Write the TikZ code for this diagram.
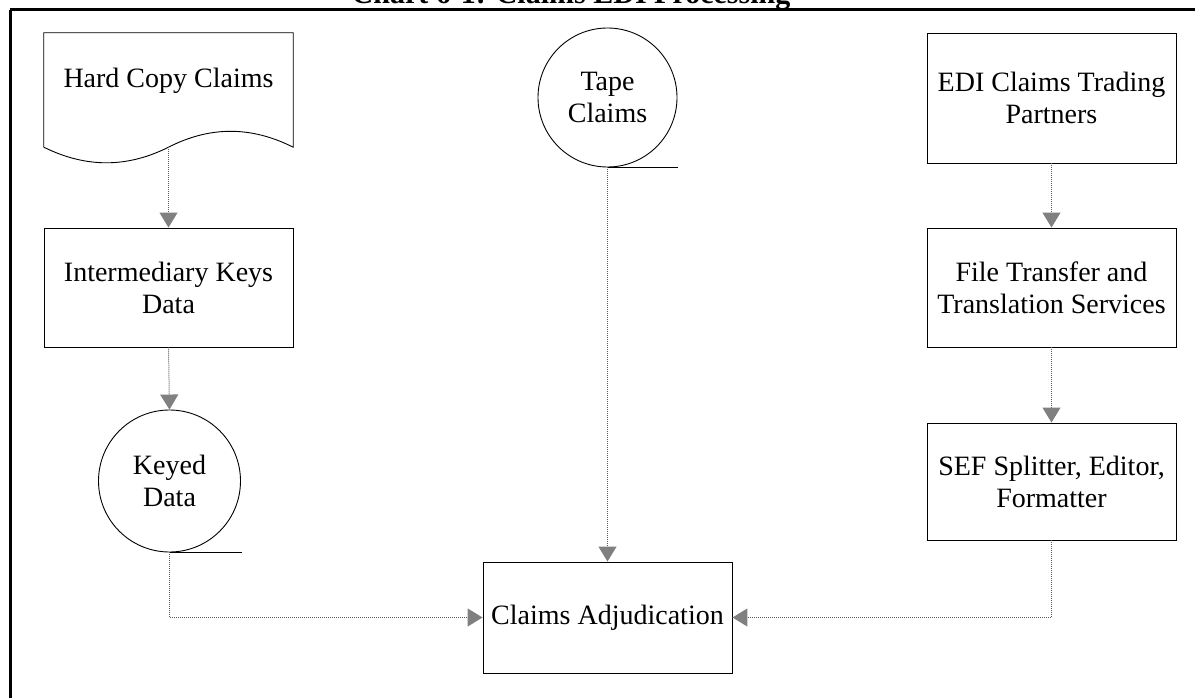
\documentclass[tikz,border=0pt]{standalone}
\usepackage{fontspec}
\setmainfont{Liberation Serif}
\usetikzlibrary{arrows.meta}

\tikzset{
  lbl/.style={font=\fontsize{28bp}{32bp}\selectfont, align=center, inner sep=0pt},
  procbox/.style={lbl, draw=black, line width=0.9bp, rectangle, minimum width=249bp},
  tapecirc/.style={lbl, draw=black, line width=0.9bp, circle},
  flow/.style={draw=black!65, line width=1bp, dash pattern=on 1bp off 1bp,
    -{Triangle[width=18bp,length=15bp,color=black!50]}},
  tapeline/.style={draw=black, line width=1bp},
  framebar/.style={draw=black, line width=3bp}
}

\begin{document}
\begin{tikzpicture}[x=1bp, y=-1bp]
  \clip (0,0) rectangle (1195,698);

  % title, partly above the page edge
  \node[font=\fontsize{30bp}{34bp}\selectfont\bfseries, anchor=base, inner sep=0pt]
    (title) at (571,3.5) {Chart 6-1: Claims EDI Processing};

  % outer frame (top and left edges)
  \draw[framebar] (10,10) -- (1200,10);
  \draw[framebar] (10,10) -- (10,705);

  % left column: paper claims
  \node[rectangle, minimum width=249bp, minimum height=114bp, inner sep=0pt]
    (hard) at (168.5,90) {};
  \draw[line width=0.9bp] (hard.south west) -- (hard.north west) -- (hard.north east)
    -- (hard.south east)
    .. controls (251,126) and (210,126) .. (hard.south)
    .. controls (127,168) and (86,168) .. (hard.south west);
  \node[lbl] (hardtxt) at (168.5,81) {Hard Copy Claims};

  \node[procbox, minimum height=119bp] (inter) at (168.5,287.5)
    {Intermediary Keys\\Data};
  \node[tapecirc, minimum size=142bp] (keyed) at (169.5,481) {Keyed\\Data};
  \draw[tapeline] (keyed.south) -- ++(72,0);

  % middle column: tape claims and adjudication
  \node[tapecirc, minimum size=139bp] (tape) at (607.5,97.5) {Tape\\Claims};
  \draw[tapeline] (tape.south) -- ++(70,0);
  \node[procbox, minimum height=111bp] (adj) at (607.5,617.5) {Claims Adjudication};

  % right column: EDI claims
  \node[procbox, minimum height=130bp] (edi) at (1051.5,98) {EDI Claims Trading\\Partners};
  \node[procbox, minimum height=119bp] (ft) at (1051.5,287.5)
    {File Transfer and\\Translation Services};
  \node[procbox, minimum height=117bp] (sef) at (1051.5,481.5)
    {SEF Splitter, Editor,\\Formatter};

  % flows
  \draw[flow] (hard.south) -- (inter.north);
  \draw[flow] (inter.south) -- (keyed.north);
  \draw[flow] (keyed.south) |- (adj.west);
  \draw[flow] (tape.south) -- (adj.north);
  \draw[flow] (edi.south) -- (ft.north);
  \draw[flow] (ft.south) -- (sef.north);
  \draw[flow] (sef.south) |- (adj.east);
\end{tikzpicture}
\end{document}
